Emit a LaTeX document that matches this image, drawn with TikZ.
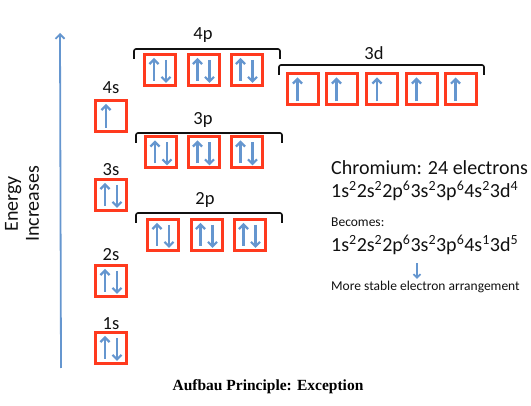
\documentclass[tikz,border=0pt]{standalone}
\usepackage{fontspec}
\setmainfont{Carlito}
\newfontfamily\capfont{Liberation Serif}
\usepackage{tikz}
\usetikzlibrary{positioning,arrows.meta,calc}
\definecolor{boxred}   {HTML}{FF3A1E}
\definecolor{spinblue} {HTML}{6596CF}
\definecolor{ink}      {HTML}{111111}
\tikzset{
  >=stealth,
  % --- nodes
  orb/.style   = {draw=boxred, line width=3pt, minimum width=31pt, minimum height=31pt,
                  inner sep=0pt},
  lvl/.style   = {font=\fontsize{18.5}{20}\selectfont, text=ink},
  big/.style   = {anchor=west, font=\fontsize{20}{22}\selectfont, text=ink, inner sep=0pt},
  small/.style = {anchor=west, font=\fontsize{13.5}{15}\selectfont, text=ink, inner sep=0pt},
  % --- edges
  spin/.style  = {-{Straight Barb[length=4.5pt,width=9pt]}, draw=spinblue, line width=2.2pt},
  brk/.style   = {draw=ink, line width=1.6pt, rounded corners=2pt},
}

\begin{document}
\begin{tikzpicture}[x=1pt,y=-1pt]
  \useasboundingbox (0,0) rectangle (531,406);

  % box with two spins / box with one spin
  \newcommand{\pairbox}[3]{\node[orb] (#1) at (#2,#3) {};
    \draw[spin] ([xshift=-6pt,yshift=-11pt]#1.center) -- ([xshift=-6pt,yshift=12pt]#1.center);
    \draw[spin] ([xshift=6pt,yshift=10pt]#1.center) -- ([xshift=6pt,yshift=-13pt]#1.center);}
  \newcommand{\onebox}[3]{\node[orb] (#1) at (#2,#3) {};
    \draw[spin] ([xshift=-5pt,yshift=-12pt]#1.center) -- ([xshift=-5pt,yshift=12pt]#1.center);}

  % energy axis
  \coordinate (ebot) at (61,368);
  \coordinate (etop) at (60,33);
  \draw[spin, line width=1.8pt] (ebot) -- (etop);
  \node[rotate=90, align=center, font=\fontsize{20}{21}\selectfont, text=ink] (energy) at (22,204)
    {Energy\\Increases};

  % s levels
  \pairbox{o1s}{111}{348}  \node[lvl] (l1s) at (111,324) {1s};
  \pairbox{o2s}{111}{281}  \node[lvl] (l2s) at (111,255) {2s};
  \pairbox{o3s}{111}{195}  \node[lvl] (l3s) at (111,170) {3s};
  \onebox{o4s}{111}{116}   \node[lvl] (l4s) at (111,88)  {4s};

  % p levels
  \pairbox{o2pa}{163}{235} \pairbox{o2pb}{206.5}{235} \pairbox{o2pc}{249.5}{235}
  \pairbox{o3pa}{161}{152.5} \pairbox{o3pb}{203.5}{152.5} \pairbox{o3pc}{246.5}{152.5}
  \pairbox{o4pa}{160}{70} \pairbox{o4pb}{203.5}{70} \pairbox{o4pc}{246.5}{70}

  % d level
  \onebox{o3da}{302.5}{89.5} \onebox{o3db}{341.5}{89.5} \onebox{o3dc}{382}{89.5}
  \onebox{o3dd}{421.5}{89.5} \onebox{o3de}{460.5}{89.5}

  % brackets
  \draw[brk] (134,59) -- (134,49) -- (280,49) -- (280,59);
  \draw[brk] (136,143) -- (136,133) -- (282,133) -- (282,143);
  \draw[brk] (136,223) -- (136,213) -- (282,213) -- (282,223);
  \draw[brk] (279,75) -- (279,65) -- (484,65) -- (484,75);
  \node[lvl] (l4p) at (203,35)  {4p};
  \node[lvl] (l3p) at (203,120) {3p};
  \node[lvl] (l2p) at (205,200) {2p};
  \node[lvl] (l3d) at (374,53)  {3d};

  % configuration text
  \node[big]   (chrom) at (331,168) {Chromium: 24 electrons};
  \node[big]   (cfga)  at (331,191) {1s\textsuperscript{2}2s\textsuperscript{2}2p\textsuperscript{6}3s\textsuperscript{2}3p\textsuperscript{6}4s\textsuperscript{2}3d\textsuperscript{4}};
  \node[small] (becom) at (331,222) {Becomes:};
  \node[big]   (cfgb)  at (331,245) {1s\textsuperscript{2}2s\textsuperscript{2}2p\textsuperscript{6}3s\textsuperscript{2}3p\textsuperscript{6}4s\textsuperscript{1}3d\textsuperscript{5}};
  \node[small] (stable) at (331,287) {More stable electron arrangement};
  \coordinate (ax) at (417,0);
  \draw[spin, line width=1.8pt, -{Straight Barb[length=3.5pt,width=7pt]}]
    ([yshift=-8pt]cfgb.south -| ax) -- ([yshift=2pt]stable.north -| ax);

  % caption
  \node[font=\capfont\bfseries\fontsize{15.5}{17}\selectfont, text=black] (cap) at (268,387)
    {Aufbau Principle: Exception};
\end{tikzpicture}
\end{document}
